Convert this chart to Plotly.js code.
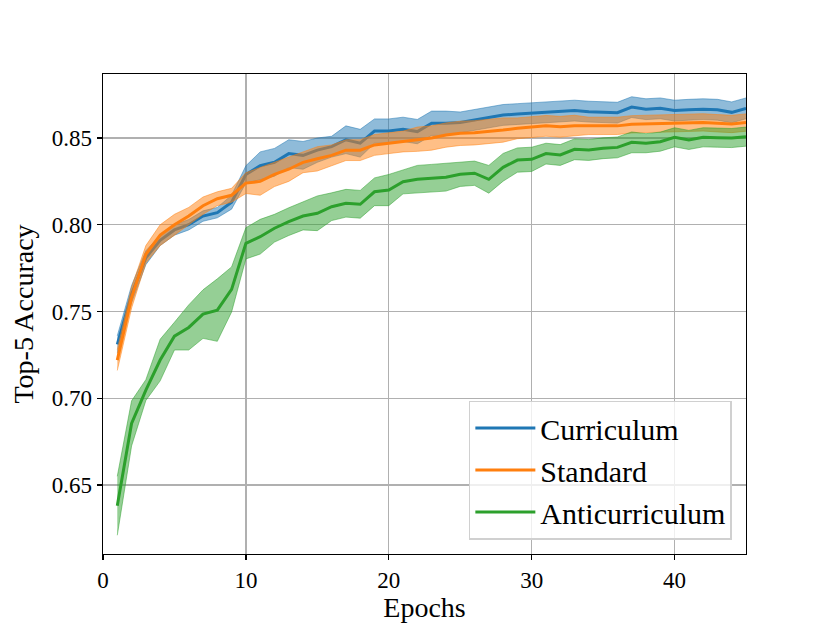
<!DOCTYPE html>
<html>
<head>
<meta charset="utf-8">
<script src="https://cdn.plot.ly/plotly-3.0.1.min.js"></script>
<style>
  body { margin: 0; background: #fff; }
  #chart { width: 830px; height: 623px; }
</style>
</head>
<body>
<div id="chart"></div>
<script>
// epochs 1..45
var epochs = [];
for (var i = 1; i <= 45; i++) epochs.push(i);

var curriculum = [
  0.731, 0.760, 0.781, 0.791, 0.797,
  0.800, 0.805, 0.807, 0.813, 0.829,
  0.834, 0.836, 0.841, 0.840, 0.843,
  0.845, 0.849, 0.847, 0.854, 0.854,
  0.855, 0.8537, 0.8585, 0.8585, 0.859,
  0.8604, 0.8617, 0.8633, 0.8638, 0.8642,
  0.8648, 0.8652, 0.8658, 0.8652, 0.8648,
  0.8646, 0.8678, 0.8666, 0.8671, 0.8658,
  0.8663, 0.8666, 0.8663, 0.8648, 0.8671
];
var curriculumStd = [
  0.005, 0.005, 0.004, 0.003, 0.003,
  0.003, 0.003, 0.003, 0.004, 0.005,
  0.008, 0.008, 0.008, 0.008, 0.007,
  0.006, 0.008, 0.008, 0.007, 0.007,
  0.007, 0.007, 0.007, 0.007, 0.006,
  0.006, 0.006, 0.006, 0.006, 0.006,
  0.006, 0.006, 0.006, 0.006, 0.006,
  0.006, 0.006, 0.006, 0.006, 0.006,
  0.006, 0.006, 0.006, 0.006, 0.006
];

var standard = [
  0.722, 0.758, 0.783, 0.794, 0.800,
  0.805, 0.811, 0.815, 0.817, 0.824,
  0.825, 0.829, 0.832, 0.836, 0.838,
  0.840, 0.843, 0.843, 0.846, 0.847,
  0.848, 0.8493, 0.850, 0.8517, 0.8527,
  0.853, 0.8537, 0.8546, 0.8556, 0.8565,
  0.857, 0.8565, 0.8571, 0.857, 0.857,
  0.857, 0.8579, 0.8581, 0.8581, 0.8585,
  0.8585, 0.859, 0.8585, 0.8581, 0.8589
];
var standardStd = [
  0.006, 0.006, 0.005, 0.006, 0.006,
  0.005, 0.005, 0.004, 0.004, 0.006,
  0.008, 0.007, 0.007, 0.006, 0.007,
  0.006, 0.006, 0.006, 0.006, 0.006,
  0.006, 0.007, 0.007, 0.007, 0.007,
  0.007, 0.007, 0.007, 0.006, 0.006,
  0.006, 0.006, 0.006, 0.005, 0.005,
  0.005, 0.005, 0.005, 0.005, 0.005,
  0.005, 0.005, 0.005, 0.005, 0.005
];

var anticurriculum = [
  0.638, 0.6855, 0.7047, 0.722, 0.7358,
  0.7408, 0.7485, 0.7508, 0.7627, 0.7893,
  0.7931, 0.798, 0.8018, 0.805, 0.8066,
  0.8104, 0.8124, 0.8118, 0.819, 0.820,
  0.8248, 0.8262, 0.8268, 0.8274, 0.8291,
  0.8297, 0.8262, 0.8331, 0.8373, 0.8377,
  0.841, 0.8402, 0.8435, 0.8431, 0.8441,
  0.8446, 0.8475, 0.847, 0.8479, 0.8504,
  0.8489, 0.8504, 0.8502, 0.850, 0.8508
];
var anticurriculumStd = [
  0.017, 0.013, 0.006, 0.012, 0.008,
  0.013, 0.014, 0.018, 0.013, 0.009,
  0.010, 0.008, 0.008, 0.008, 0.010,
  0.008, 0.008, 0.008, 0.008, 0.009,
  0.007, 0.008, 0.008, 0.008, 0.007,
  0.007, 0.008, 0.008, 0.007, 0.007,
  0.006, 0.006, 0.006, 0.006, 0.006,
  0.006, 0.006, 0.0055, 0.0055, 0.0055,
  0.0055, 0.0055, 0.0055, 0.0055, 0.0055
];

var series = [
  { name: 'Curriculum', mean: curriculum, std: curriculumStd, rgb: '31,119,180' },
  { name: 'Standard', mean: standard, std: standardStd, rgb: '255,127,14' },
  { name: 'Anticurriculum', mean: anticurriculum, std: anticurriculumStd, rgb: '44,160,44' }
];

var FONT = '"Liberation Serif", "DejaVu Serif", serif';

var data = [];
series.forEach(function (s) {
  var lo = s.mean.map(function (v, k) { return v - s.std[k]; });
  var hi = s.mean.map(function (v, k) { return v + s.std[k]; });
  data.push({
    x: epochs, y: s.mean, type: 'scatter', mode: 'lines', name: s.name,
    line: { color: 'rgb(' + s.rgb + ')', width: 3 }
  });
  data.push({
    x: epochs, y: lo, type: 'scatter', mode: 'lines', showlegend: false,
    hoverinfo: 'skip', line: { color: 'rgba(' + s.rgb + ',0.5)', width: 1 }
  });
  data.push({
    x: epochs, y: hi, type: 'scatter', mode: 'lines', showlegend: false,
    hoverinfo: 'skip', fill: 'tonexty', fillcolor: 'rgba(' + s.rgb + ',0.5)',
    line: { color: 'rgba(' + s.rgb + ',0.5)', width: 1 }
  });
});

var layout = {
  width: 830,
  height: 623,
  margin: { l: 103, r: 84, t: 74, b: 69 },
  paper_bgcolor: '#fff',
  plot_bgcolor: '#fff',
  font: { family: FONT, color: '#000', size: 23 },
  showlegend: true,
  legend: {
    x: 0.978, y: 0.03, xanchor: 'right', yanchor: 'bottom',
    traceorder: 'normal',
    bgcolor: 'rgba(255,255,255,0.8)',
    bordercolor: '#d0d0d0', borderwidth: 1.5,
    font: { family: FONT, size: 30 },
    itemwidth: 60,
    tracegroupgap: 0
  },
  xaxis: {
    range: [0, 45],
    tickvals: [0, 10, 20, 30, 40],
    ticks: 'outside', ticklen: 5, tickwidth: 1.3, tickcolor: '#000',
    showline: true, linecolor: '#000', linewidth: 1.4, mirror: true,
    showgrid: true, gridcolor: '#b0b0b0', gridwidth: 1.4,
    zeroline: false,
    tickfont: { family: FONT, size: 23 },
    title: { text: 'Epochs', font: { family: FONT, size: 28 }, standoff: 9 }
  },
  yaxis: {
    range: [0.6102, 0.8869],
    tickvals: [0.65, 0.70, 0.75, 0.80, 0.85],
    tickformat: '.2f',
    ticks: 'outside', ticklen: 5, tickwidth: 1.3, tickcolor: '#000',
    showline: true, linecolor: '#000', linewidth: 1.4, mirror: true,
    showgrid: true, gridcolor: '#b0b0b0', gridwidth: 1.4,
    zeroline: false,
    tickfont: { family: FONT, size: 23 },
    title: { text: 'Top-5 Accuracy', font: { family: FONT, size: 28 }, standoff: 10 }
  }
};

Plotly.newPlot(document.getElementById('chart'), data, layout, { displayModeBar: false, staticPlot: true });
</script>
</body>
</html>
